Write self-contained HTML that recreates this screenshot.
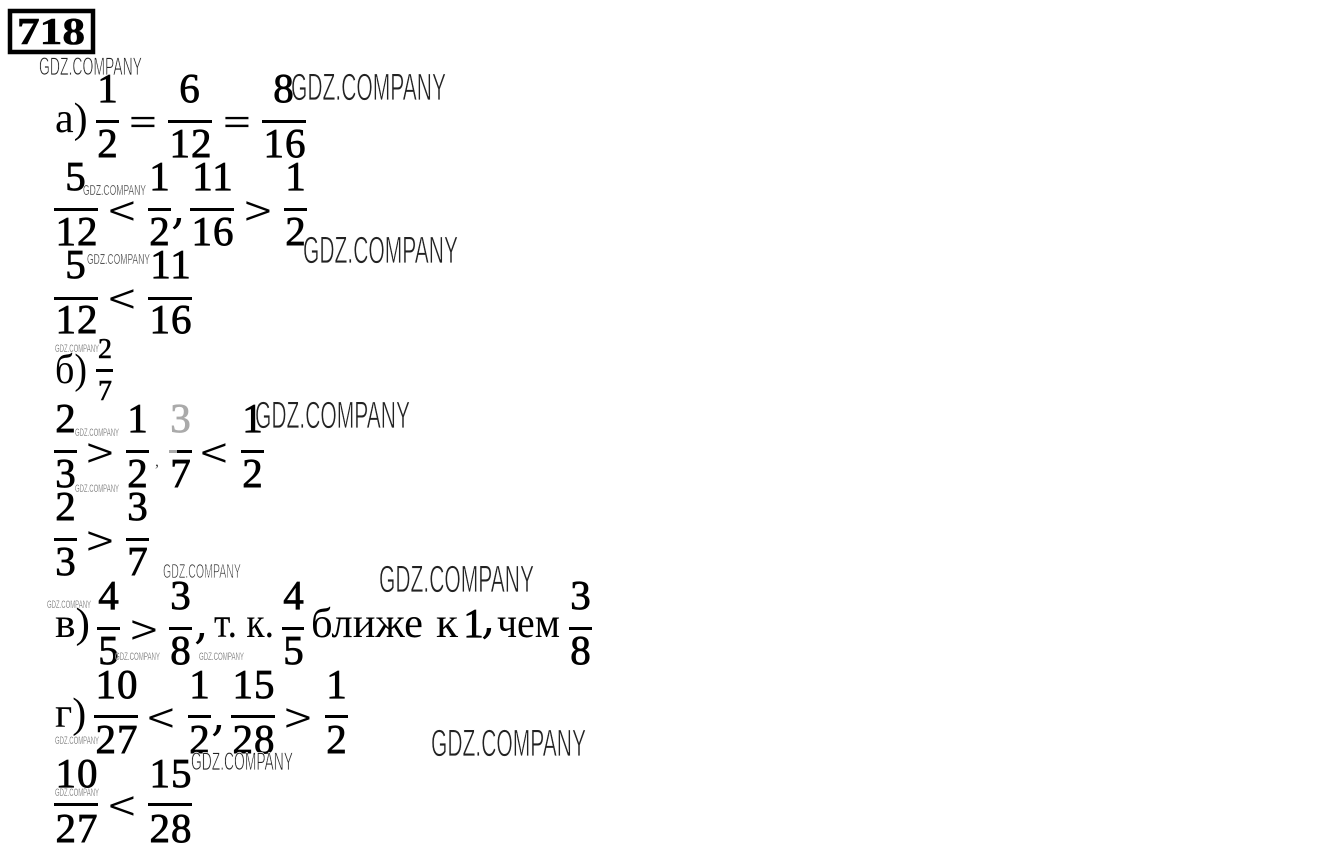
<!DOCTYPE html>
<html lang="ru"><head><meta charset="utf-8"><title>718</title>
<style>
html,body{margin:0;padding:0;background:#fff;width:1326px;height:866px;overflow:hidden}
svg{display:block}
.n{font-family:"Liberation Serif",serif;font-size:41px;letter-spacing:1px;text-anchor:middle;fill:#000;stroke:#000;stroke-width:.8px}
.o{font-family:"DejaVu Sans",sans-serif;font-size:38px;fill:#000;stroke:#fff;stroke-width:.7px}
.c{font-family:"DejaVu Serif",serif;font-size:46px;fill:#000}
.t{font-family:"Liberation Serif",serif;font-size:42px;fill:#000}
.m{font-family:"Liberation Serif",serif;font-size:28px;text-anchor:middle;fill:#000;stroke:#000;stroke-width:.6px}
.w{font-family:"Liberation Sans",sans-serif;fill:#222;stroke:#fff;stroke-width:.7px}
.x{fill:#333;stroke-width:.35px}
.b{fill:#000}
</style></head><body>
<svg width="1326" height="866" viewBox="0 0 1326 866" xmlns="http://www.w3.org/2000/svg">
<rect x="10" y="11" width="83" height="41" fill="none" stroke="#000" stroke-width="4.5"/>
<text x="17" y="44" font-family="Liberation Serif, serif" font-weight="bold" font-size="38" textLength="68" lengthAdjust="spacingAndGlyphs" stroke="#000" stroke-width=".6">718</text>

<text class="t" x="55" y="132">а)</text>
<text class="n" x="108" y="102">1</text><rect class="b" x="96" y="120" width="23" height="3"/><text class="n" x="108" y="157">2</text>
<text class="o" x="127" y="134">=</text>
<text class="n" x="190" y="102">6</text><rect class="b" x="168" y="120" width="44" height="3"/><text class="n" x="191" y="157">12</text>
<text class="o" x="221" y="134">=</text>
<text class="n" x="284" y="102">8</text><rect class="b" x="262" y="120" width="44" height="3"/><text class="n" x="285" y="157">16</text>

<text class="n" x="76" y="190">5</text><rect class="b" x="54" y="208" width="44" height="3"/><text class="n" x="77" y="245">12</text>
<text class="o" x="106" y="223">&lt;</text>
<text class="n" x="160" y="190">1</text><rect class="b" x="148" y="208" width="23" height="3"/><text class="n" x="160" y="245">2</text>
<text class="c" x="171" y="223">,</text>
<text class="n" x="213" y="190">11</text><rect class="b" x="190" y="208" width="44" height="3"/><text class="n" x="213" y="245">16</text>
<text class="o" x="242" y="223">&gt;</text>
<text class="n" x="296" y="190">1</text><rect class="b" x="284" y="208" width="23" height="3"/><text class="n" x="296" y="245">2</text>

<text class="n" x="76" y="278">5</text><rect class="b" x="54" y="297" width="44" height="3"/><text class="n" x="77" y="333">12</text>
<text class="o" x="106" y="311">&lt;</text>
<text class="n" x="171" y="278">11</text><rect class="b" x="148" y="297" width="44" height="3"/><text class="n" x="171" y="333">16</text>

<text class="t" x="55" y="383" textLength="32" lengthAdjust="spacingAndGlyphs">б)</text>
<text class="m" x="105" y="358">2</text><rect class="b" x="96" y="369" width="17" height="3"/><text class="m" x="105" y="400">7</text>

<text class="n" x="66" y="432">2</text><rect class="b" x="54" y="450" width="23" height="3"/><text class="n" x="66" y="487">3</text>
<text class="o" x="84" y="465">&gt;</text>
<text class="n" x="138" y="432">1</text><rect class="b" x="126" y="450" width="23" height="3"/><text class="n" x="138" y="487">2</text>
<text x="155" y="466" font-family="Liberation Serif,serif" font-size="16" fill="#444">,</text>
<text class="n" x="181" y="432" style="fill:#aaa;stroke:#aaa">3</text><rect x="169" y="450" width="8" height="3" fill="#aaa"/><rect class="b" x="177" y="450" width="15" height="3"/><text class="n" x="181" y="487">7</text>
<text class="o" x="198" y="465">&lt;</text>
<text class="n" x="253" y="432">1</text><rect class="b" x="241" y="450" width="23" height="3"/><text class="n" x="253" y="487">2</text>

<text class="n" x="66" y="520">2</text><rect class="b" x="54" y="538" width="23" height="3"/><text class="n" x="66" y="575">3</text>
<text class="o" x="84" y="553">&gt;</text>
<text class="n" x="138" y="520">3</text><rect class="b" x="126" y="538" width="23" height="3"/><text class="n" x="138" y="575">7</text>

<text class="t" x="55" y="637" textLength="35" lengthAdjust="spacingAndGlyphs">в)</text>
<text class="n" x="109" y="609">4</text><rect class="b" x="97" y="627" width="23" height="3"/><text class="n" x="109" y="664">5</text>
<text class="o" x="128" y="642">&gt;</text>
<text class="n" x="181" y="609">3</text><rect class="b" x="169" y="627" width="23" height="3"/><text class="n" x="181" y="664">8</text>
<text class="c" x="194" y="638">,</text>
<text class="t" x="214" y="637" textLength="60" lengthAdjust="spacingAndGlyphs" xml:space="preserve">т. к.</text>
<text class="n" x="294" y="609">4</text><rect class="b" x="282" y="627" width="22" height="3"/><text class="n" x="294" y="664">5</text>
<text class="t" x="311" y="637" textLength="112" lengthAdjust="spacingAndGlyphs">ближе</text>
<text class="t" x="436" y="637" textLength="22" lengthAdjust="spacingAndGlyphs">к</text>
<text class="n" x="474" y="637">1</text>
<text class="c" x="481" y="633" font-size="38">,</text>
<text class="t" x="497" y="637" textLength="63" lengthAdjust="spacingAndGlyphs">чем</text>
<text class="n" x="581" y="609">3</text><rect class="b" x="569" y="627" width="23" height="3"/><text class="n" x="581" y="664">8</text>

<text class="t" x="55" y="727">г)</text>
<text class="n" x="117" y="698">10</text><rect class="b" x="94" y="715" width="44" height="3"/><text class="n" x="117" y="753">27</text>
<text class="o" x="145" y="730">&lt;</text>
<text class="n" x="200" y="698">1</text><rect class="b" x="188" y="715" width="23" height="3"/><text class="n" x="200" y="753">2</text>
<text class="c" x="211" y="730">,</text>
<text class="n" x="254" y="698">15</text><rect class="b" x="231" y="715" width="44" height="3"/><text class="n" x="254" y="753">28</text>
<text class="o" x="282" y="730">&gt;</text>
<text class="n" x="337" y="698">1</text><rect class="b" x="325" y="715" width="23" height="3"/><text class="n" x="337" y="753">2</text>

<text class="n" x="77" y="787">10</text><rect class="b" x="54" y="803" width="44" height="3"/><text class="n" x="77" y="842">27</text>
<text class="o" x="106" y="818">&lt;</text>
<text class="n" x="171" y="787">15</text><rect class="b" x="148" y="803" width="44" height="3"/><text class="n" x="171" y="842">28</text>

<text class="w" x="39" y="75" font-size="25" textLength="103" lengthAdjust="spacingAndGlyphs">GDZ.COMPANY</text>
<text class="w" x="291" y="100" font-size="38" textLength="155" lengthAdjust="spacingAndGlyphs">GDZ.COMPANY</text>
<text class="w x" x="83" y="195" font-size="15" textLength="63" lengthAdjust="spacingAndGlyphs">GDZ.COMPANY</text>
<text class="w x" x="87" y="264" font-size="15" textLength="63" lengthAdjust="spacingAndGlyphs">GDZ.COMPANY</text>
<text class="w" x="303" y="263" font-size="38" textLength="155" lengthAdjust="spacingAndGlyphs">GDZ.COMPANY</text>
<text class="w x" x="55" y="352" font-size="11" textLength="44" lengthAdjust="spacingAndGlyphs">GDZ.COMPANY</text>
<text class="w" x="255" y="428" font-size="38" textLength="155" lengthAdjust="spacingAndGlyphs">GDZ.COMPANY</text>
<text class="w x" x="75" y="436" font-size="11" textLength="44" lengthAdjust="spacingAndGlyphs">GDZ.COMPANY</text>
<text class="w x" x="75" y="492" font-size="11" textLength="44" lengthAdjust="spacingAndGlyphs">GDZ.COMPANY</text>
<text class="w" x="163" y="578" font-size="20" textLength="78" lengthAdjust="spacingAndGlyphs">GDZ.COMPANY</text>
<text class="w" x="379" y="592" font-size="38" textLength="155" lengthAdjust="spacingAndGlyphs">GDZ.COMPANY</text>
<text class="w x" x="47" y="608" font-size="11" textLength="44" lengthAdjust="spacingAndGlyphs">GDZ.COMPANY</text>
<text class="w x" x="115" y="660" font-size="11" textLength="45" lengthAdjust="spacingAndGlyphs">GDZ.COMPANY</text>
<text class="w x" x="199" y="660" font-size="11" textLength="45" lengthAdjust="spacingAndGlyphs">GDZ.COMPANY</text>
<text class="w" x="431" y="756" font-size="38" textLength="155" lengthAdjust="spacingAndGlyphs">GDZ.COMPANY</text>
<text class="w x" x="55" y="744" font-size="11" textLength="44" lengthAdjust="spacingAndGlyphs">GDZ.COMPANY</text>
<text class="w" x="191" y="770" font-size="25" textLength="102" lengthAdjust="spacingAndGlyphs">GDZ.COMPANY</text>
<text class="w x" x="55" y="796" font-size="11" textLength="44" lengthAdjust="spacingAndGlyphs">GDZ.COMPANY</text>
</svg>
</body></html>
